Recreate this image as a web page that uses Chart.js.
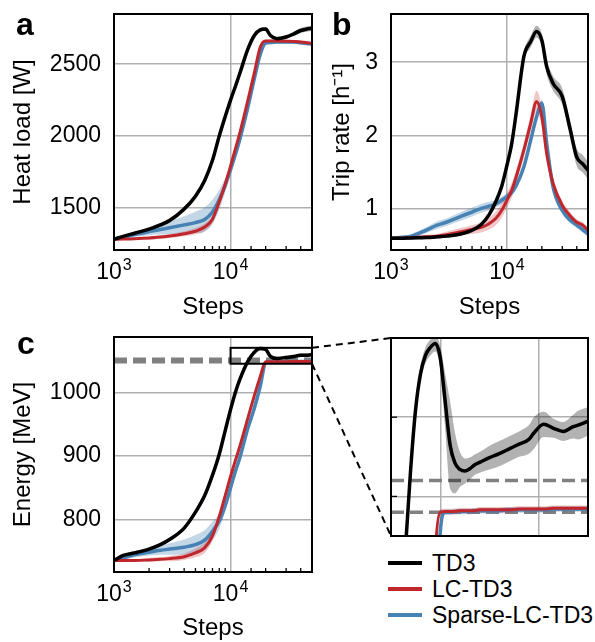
<!DOCTYPE html>
<html>
<head>
<meta charset="utf-8">
<script src="https://cdn.jsdelivr.net/npm/chart.js@4.4.0/dist/chart.umd.min.js"></script>
<style>
  body { margin: 0; background: #fff; font-family: "Liberation Sans", Arial, sans-serif; }
  #wrap { position: relative; width: 595px; height: 642px; overflow: hidden; background: #fff; }
  #wrap canvas { position: absolute; }
  .lab { position: absolute; font-weight: bold; font-size: 32px; line-height: 32px; color: #000; }
  .row { position: absolute; left: 388px; height: 26px; display: flex; align-items: center; font-size: 23px; color: #000; }
  .row span.ln { display: inline-block; width: 34px; height: 4px; margin-right: 10px; }
</style>
</head>
<body>
<div id="wrap">
  <canvas id="chartA" width="320" height="320" style="left:0;top:0"></canvas>
  <canvas id="chartB" width="295" height="320" style="left:300px;top:0"></canvas>
  <canvas id="chartC" width="320" height="322" style="left:0;top:320px"></canvas>
  <canvas id="chartI" width="215" height="215" style="left:380px;top:330px"></canvas>
  <canvas id="over" width="595" height="642" style="left:0;top:0;z-index:5;pointer-events:none"></canvas>
  <div class="lab" style="left:16px;top:8px">a</div>
  <div class="lab" style="left:332px;top:8px">b</div>
  <div class="lab" style="left:17px;top:327px">c</div>
  <div id="legend"></div>
</div>
<script>
// training steps (log axis) shared by panels a, b, c
const steps = [1000, 1200, 1500, 2000, 2500, 3000, 4000, 5000, 6000, 7000, 8000, 9000, 10000,
  11000, 12000, 14000, 16000, 18000, 20000, 22000, 25000, 30000, 35000, 40000, 45000, 50000];

// a: heat load [W]
const heatTD3 = [1280, 1300, 1322, 1350, 1380, 1410, 1490, 1580, 1690, 1830, 2000, 2135, 2250,
  2345, 2435, 2600, 2700, 2740, 2745, 2700, 2678, 2690, 2712, 2735, 2745, 2750];
const heatLC = [1280, 1281, 1283, 1288, 1295, 1302, 1318, 1336, 1365, 1420, 1540, 1665, 1790,
  1910, 2020, 2240, 2440, 2620, 2662, 2662, 2662, 2660, 2658, 2655, 2650, 2645];
const heatSparse = [1280, 1293, 1312, 1333, 1348, 1360, 1380, 1396, 1418, 1470, 1555, 1655, 1765,
  1870, 1975, 2190, 2400, 2570, 2648, 2652, 2655, 2655, 2655, 2650, 2645, 2640];
const heatTD3Sd = [8, 10, 12, 14, 15, 16, 18, 20, 20, 20, 20, 18, 16, 15, 14, 14, 14, 14, 14, 14, 14, 14, 16, 18, 18, 18];
const heatLCSd = [5, 6, 8, 10, 12, 14, 18, 22, 25, 25, 22, 20, 18, 16, 15, 14, 12, 12, 10, 10, 10, 10, 10, 10, 10, 10];
const heatSparseSd = [6, 10, 15, 25, 35, 45, 60, 75, 85, 85, 70, 50, 30, 25, 22, 20, 18, 16, 12, 12, 12, 12, 12, 12, 12, 12];

// b: trip rate [1/h]
const tripTD3 = [0.59, 0.59, 0.595, 0.60, 0.61, 0.62, 0.65, 0.70, 0.78, 0.91, 1.09, 1.30, 1.59,
  1.89, 2.30, 3.08, 3.28, 3.42, 3.30, 2.94, 2.71, 2.53, 2.09, 1.70, 1.61, 1.52];
const tripLC = [0.59, 0.59, 0.60, 0.61, 0.62, 0.64, 0.68, 0.71, 0.74, 0.79, 0.86, 0.97, 1.11,
  1.25, 1.43, 1.80, 2.16, 2.46, 2.25, 1.75, 1.34, 1.04, 0.90, 0.81, 0.77, 0.70];
const tripSparse = [0.59, 0.60, 0.62, 0.70, 0.77, 0.81, 0.89, 0.95, 1.00, 1.03, 1.06, 1.11, 1.16,
  1.22, 1.31, 1.57, 1.93, 2.25, 2.44, 1.89, 1.29, 0.97, 0.84, 0.77, 0.71, 0.65];
const tripTD3Sd = [0.02, 0.02, 0.02, 0.02, 0.02, 0.02, 0.02, 0.03, 0.03, 0.03, 0.04, 0.05, 0.06,
  0.06, 0.06, 0.07, 0.08, 0.08, 0.09, 0.10, 0.10, 0.11, 0.12, 0.12, 0.12, 0.12];
const tripLCSd = [0.01, 0.01, 0.02, 0.03, 0.03, 0.04, 0.05, 0.06, 0.07, 0.08, 0.09, 0.10, 0.10,
  0.10, 0.10, 0.10, 0.12, 0.15, 0.12, 0.10, 0.08, 0.06, 0.05, 0.04, 0.04, 0.04];
const tripSparseSd = [0.01, 0.02, 0.03, 0.04, 0.05, 0.05, 0.06, 0.06, 0.06, 0.06, 0.05, 0.05, 0.05,
  0.05, 0.05, 0.05, 0.05, 0.05, 0.05, 0.05, 0.04, 0.04, 0.04, 0.04, 0.04, 0.04];

// c: beam energy [MeV]
const energyTD3 = [736, 744, 748, 754, 761, 769, 787, 812, 838, 870, 903, 940, 973,
  1000, 1020, 1048, 1063, 1068.8, 1067.5, 1056.5, 1053.2, 1054.9, 1056.3, 1058.5, 1058.2, 1059.5];
const energyLC = [736, 736, 736, 737, 738, 739, 742, 748, 756, 775, 805, 838, 868,
  893, 915, 958, 995, 1025, 1048, 1048.1, 1048.2, 1048.3, 1048.4, 1048.5, 1048.5, 1048.5];
const energySparse = [736, 740, 745, 749, 752, 754, 757, 761, 768, 782, 798, 822, 850,
  876, 897, 942, 975, 1010, 1046.5, 1048, 1048.2, 1048.3, 1048.4, 1048.5, 1048.5, 1048.5];
const energyTD3Sd = [2, 2, 3, 3, 3, 3, 3, 3, 3, 3, 3, 3, 3, 3, 3, 3, 3, 3, 3, 3, 3, 3, 3, 3, 3, 3];
const energyLCSd = [2, 2, 2, 3, 3, 4, 5, 7, 8, 8, 7, 6, 5, 4, 4, 4, 4, 3, 2, 2, 2, 2, 2, 2, 2, 2];
const energySparseSd = [2, 3, 4, 5, 7, 9, 12, 15, 16, 15, 12, 9, 6, 5, 5, 4, 4, 3, 2, 2, 2, 2, 2, 2, 2, 2];
const targetEnergy = [1048, 1052];

// zoomed inset of c (linear steps)
const insetSteps = [12000, 13000, 14000, 15000, 16000, 17000, 18000, 19000, 20000, 21000, 22000,
  23000, 24000, 25000, 26000, 27000, 28000, 30000, 32000, 34000, 36000, 38000, 39000, 41000,
  43000, 45000, 47000, 48000, 50000];
const insetTD3 = [1036, 1044, 1053.5, 1061, 1065.5, 1067.8, 1068.8, 1069.3, 1067.5, 1062, 1056.5,
  1054.2, 1053.4, 1053.2, 1053.5, 1054, 1054.3, 1054.9, 1055.4, 1056, 1056.6, 1057.2, 1058, 1059.1,
  1058.6, 1058.2, 1058.8, 1059, 1059.5];
const insetTD3Sd = [1, 1, 1, 1, 1, 1, 1, 1, 1.5, 3.5, 5.5, 3.8, 2.2, 1.6, 1.4, 1.3, 1.3, 1.5, 1.6,
  1.6, 1.6, 1.8, 2, 1.6, 1.2, 1.2, 1.5, 1.8, 1.8];
const insetLC = [915, 935, 958, 978, 995, 1012, 1025, 1043, 1048, 1048.1, 1048.1, 1048.1, 1048.2,
  1048.2, 1048.2, 1048.2, 1048.3, 1048.3, 1048.3, 1048.3, 1048.4, 1048.4, 1048.4, 1048.4, 1048.5,
  1048.5, 1048.5, 1048.5, 1048.5];
const insetSparse = [897, 920, 942, 964, 985, 1000, 1010, 1033, 1045.5, 1048, 1048, 1048.1, 1048.1,
  1048.1, 1048.1, 1048.2, 1048.2, 1048.2, 1048.2, 1048.3, 1048.3, 1048.3, 1048.3, 1048.3, 1048.4,
  1048.4, 1048.4, 1048.4, 1048.4];
const insetColorSd = 0.35;

// axes
const stepRange = [1000, 50000];
const decadeTicks = [1000, 10000];
const decadeExp = ['3', '4'];
const heatTicks = [1500, 2000, 2500];
const tripTicks = [1, 2, 3];
const energyTicks = [800, 900, 1000];
const insetStepRange = [10000, 50000];
const insetEnergyRange = [1045, 1070];
const insetStepTicks = [20000, 40000];
const insetEnergyTicks = [1050, 1060];

const seriesNames = ['TD3', 'LC-TD3', 'Sparse-LC-TD3'];
const lineColors = ['#000000', '#c0272d', '#4682b4'];
const bandColors = ['rgba(0,0,0,0.3)', 'rgba(200,50,55,0.28)', 'rgba(70,130,180,0.32)'];
const lineWidths = [3.5, 3, 3.5];
const gridColor = '#b0b0b0';
const fontFam = '"Liberation Sans", Arial, sans-serif';

Chart.defaults.font.family = fontFam;
Chart.defaults.color = '#000';
Chart.defaults.animation = false;
Chart.defaults.plugins.legend.display = false;
Chart.defaults.plugins.tooltip.enabled = false;

function buildSets(xs, groups) {
  const out = [];
  groups.forEach(([ys, sd], k) => {
    const pts = d => xs.map((x, i) => ({ x, y: ys[i] + d * (Array.isArray(sd) ? sd[i] : sd) }));
    const common = { pointRadius: 0, cubicInterpolationMode: 'monotone' };
    out.push({ ...common, data: pts(1), borderWidth: 0, borderColor: 'transparent', fill: false, order: 20 + k });
    out.push({ ...common, data: pts(-1), borderWidth: 0, borderColor: 'transparent', fill: '-1', backgroundColor: bandColors[k], order: 20 + k });
    out.push({ ...common, data: pts(0), borderColor: lineColors[k], borderWidth: lineWidths[k], fill: false, order: k });
  });
  return out;
}

function targetSets(xr) {
  return targetEnergy.map(t => ({
    data: xr.map(x => ({ x, y: t })), borderColor: '#808080', borderWidth: 3.5,
    borderDash: [13, 6], pointRadius: 0, fill: false, order: 40
  }));
}

const decadeIndex = v => decadeTicks.findIndex(d => Math.abs(v - d) / d < 1e-6);

// frame, inward ticks, 10^n labels and zoom box
const framePlugin = {
  id: 'frame',
  afterDatasetsDraw(chart, args, opts) {
    const { ctx, chartArea: a, scales } = chart;
    ctx.save();
    ctx.strokeStyle = '#000';
    ctx.lineWidth = 1.3;
    if (opts.minorX) {
      scales.x.ticks.forEach(t => {
        if (decadeIndex(t.value) >= 0) return;
        const px = scales.x.getPixelForValue(t.value);
        ctx.beginPath(); ctx.moveTo(px, a.bottom); ctx.lineTo(px, a.bottom - 4); ctx.stroke();
      });
    }
    if (opts.innerY) {
      scales.y.ticks.forEach(t => {
        const py = scales.y.getPixelForValue(t.value);
        ctx.beginPath(); ctx.moveTo(a.left, py); ctx.lineTo(a.left + 6, py); ctx.stroke();
      });
    }
    if (opts.box) {
      const x0 = scales.x.getPixelForValue(insetStepRange[0]);
      const x1 = scales.x.getPixelForValue(insetStepRange[1]);
      const y0 = scales.y.getPixelForValue(insetEnergyRange[1]);
      const y1 = scales.y.getPixelForValue(insetEnergyRange[0]);
      ctx.lineWidth = 2;
      ctx.strokeRect(x0, y0, x1 - x0, y1 - y0);
    }
    ctx.lineWidth = 2;
    ctx.strokeRect(a.left, a.top, a.right - a.left, a.bottom - a.top);
    if (opts.minorX) {
      ctx.fillStyle = '#000';
      ctx.textBaseline = 'alphabetic';
      ctx.textAlign = 'left';
      decadeTicks.forEach((d, i) => {
        const px = scales.x.getPixelForValue(d);
        ctx.font = '23px ' + fontFam;
        const wb = ctx.measureText('10').width;
        ctx.font = '16px ' + fontFam;
        const we = ctx.measureText(decadeExp[i]).width;
        const x0 = px - (wb + we + 1) / 2;
        ctx.font = '23px ' + fontFam;
        ctx.fillText('10', x0, a.bottom + 29);
        ctx.font = '16px ' + fontFam;
        ctx.fillText(decadeExp[i], x0 + wb + 1, a.bottom + 20);
      });
    }
    ctx.restore();
  }
};

function noPad(s) { s.paddingTop = 0; s.paddingBottom = 0; s.paddingLeft = 0; s.paddingRight = 0; }

function mainChart(id, groups, yRange, yTicks, yTitle, g, extraSets, frameOpts) {
  return new Chart(document.getElementById(id), {
    type: 'line',
    data: { datasets: (extraSets || []).concat(buildSets(steps, groups)) },
    plugins: [framePlugin],
    options: {
      responsive: false,
      layout: { padding: { top: g.padTop, right: g.padRight, left: 0, bottom: 0 } },
      plugins: { frame: frameOpts },
      scales: {
        x: {
          type: 'logarithmic', min: stepRange[0], max: stepRange[1],
          afterFit: s => { s.height = g.xHeight; noPad(s); },
          border: { display: false },
          grid: { color: c => (c.tick && decadeIndex(c.tick.value) > 0 ? gridColor : 'rgba(0,0,0,0)'), lineWidth: 1.5, drawTicks: false },
          ticks: { autoSkip: false, maxRotation: 0, callback: () => '' },
          title: { display: true, text: 'Steps', font: { size: 24, lineHeight: 1 }, padding: { top: 0, bottom: g.xTitlePad } }
        },
        y: {
          min: yRange[0], max: yRange[1],
          afterBuildTicks: s => { s.ticks = yTicks.map(v => ({ value: v })); },
          afterFit: s => { s.width = g.yWidth; noPad(s); },
          border: { display: false },
          grid: { color: gridColor, lineWidth: 1.5, drawTicks: false },
          ticks: { padding: 13, font: { size: 23 }, callback: v => String(v) },
          title: { display: true, text: yTitle, font: { size: 24, lineHeight: 1 }, padding: { top: g.yTitlePad, bottom: 0 } }
        }
      }
    }
  });
}

const chartA = mainChart('chartA',
  [[heatTD3, heatTD3Sd], [heatLC, heatLCSd], [heatSparse, heatSparseSd]],
  [1205, 2850], heatTicks, 'Heat load [W]',
  { padTop: 14, padRight: 8, yWidth: 114, xHeight: 70, yTitlePad: 11, xTitlePad: 1 },
  null, { minorX: true });

const chartB = mainChart('chartB',
  [[tripTD3, tripTD3Sd], [tripLC, tripLCSd], [tripSparse, tripSparseSd]],
  [0.43, 3.66], tripTicks, 'Trip rate [h⁻¹]',
  { padTop: 14, padRight: 7, yWidth: 91, xHeight: 70, yTitlePad: 30, xTitlePad: 1 },
  null, { minorX: true });

const chartC = mainChart('chartC',
  [[energyTD3, energyTD3Sd], [energyLC, energyLCSd], [energySparse, energySparseSd]],
  [718, 1087], energyTicks, 'Energy [MeV]',
  { padTop: 17, padRight: 8, yWidth: 114, xHeight: 70, yTitlePad: 11, xTitlePad: 2 },
  targetSets(stepRange), { minorX: true, box: true });

const chartI = new Chart(document.getElementById('chartI'), {
  type: 'line',
  data: {
    datasets: targetSets(insetStepRange).concat(buildSets(insetSteps,
      [[insetTD3, insetTD3Sd], [insetLC, insetColorSd], [insetSparse, insetColorSd]]))
  },
  plugins: [framePlugin],
  options: {
    responsive: false,
    layout: { padding: { top: 8, right: 7, left: 0, bottom: 0 } },
    plugins: { frame: { innerY: true } },
    scales: {
      x: {
        type: 'linear', min: insetStepRange[0], max: insetStepRange[1],
        afterBuildTicks: s => { s.ticks = insetStepTicks.map(v => ({ value: v })); },
        afterFit: s => { s.height = 9; noPad(s); },
        border: { display: false },
        grid: { color: gridColor, lineWidth: 1.5, drawTicks: false },
        ticks: { display: false }
      },
      y: {
        min: insetEnergyRange[0], max: insetEnergyRange[1],
        afterBuildTicks: s => { s.ticks = insetEnergyTicks.map(v => ({ value: v })); },
        afterFit: s => { s.width = 11; noPad(s); },
        border: { display: false },
        grid: { color: gridColor, lineWidth: 1.5, drawTicks: false },
        ticks: { display: false }
      }
    }
  }
});

// dashed connectors from the zoom box in c to the inset
(function drawConnectors() {
  const ctx = document.getElementById('over').getContext('2d');
  const offC = { x: 0, y: 320 }, offI = { x: 380, y: 330 };
  const bx = chartC.scales.x.getPixelForValue(insetStepRange[1]) + offC.x;
  const byTop = chartC.scales.y.getPixelForValue(insetEnergyRange[1]) + offC.y;
  const byBot = chartC.scales.y.getPixelForValue(insetEnergyRange[0]) + offC.y;
  const ia = chartI.chartArea;
  ctx.strokeStyle = '#000';
  ctx.lineWidth = 2;
  ctx.setLineDash([7, 5]);
  ctx.beginPath();
  ctx.moveTo(bx, byTop); ctx.lineTo(ia.left + offI.x, ia.top + offI.y);
  ctx.moveTo(bx, byBot); ctx.lineTo(ia.left + offI.x, ia.bottom + offI.y);
  ctx.stroke();
})();

// legend
const legend = document.getElementById('legend');
seriesNames.forEach((name, k) => {
  const row = document.createElement('div');
  row.className = 'row';
  row.style.top = (550 + k * 26) + 'px';
  row.innerHTML = '<span class="ln" style="background:' + lineColors[k] + '"></span><span>' + name + '</span>';
  legend.appendChild(row);
});
</script>
</body>
</html>
